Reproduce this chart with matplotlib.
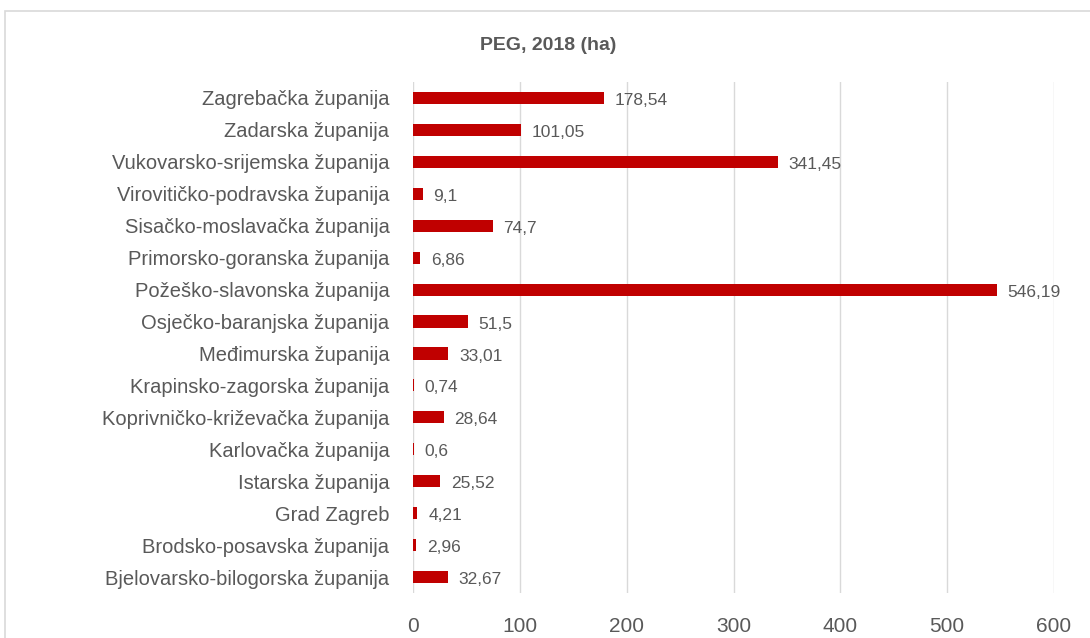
import matplotlib
matplotlib.use("Agg")
import matplotlib.pyplot as plt
from matplotlib.patches import Rectangle

categories = [
    "Zagrebačka županija",
    "Zadarska županija",
    "Vukovarsko-srijemska županija",
    "Virovitičko-podravska županija",
    "Sisačko-moslavačka županija",
    "Primorsko-goranska županija",
    "Požeško-slavonska županija",
    "Osječko-baranjska županija",
    "Međimurska županija",
    "Krapinsko-zagorska županija",
    "Koprivničko-križevačka županija",
    "Karlovačka županija",
    "Istarska županija",
    "Grad Zagreb",
    "Brodsko-posavska županija",
    "Bjelovarsko-bilogorska županija",
]
values = [178.54, 101.05, 341.45, 9.1, 74.7, 6.86, 546.19, 51.5, 33.01, 0.74,
          28.64, 0.6, 25.52, 4.21, 2.96, 32.67]
value_labels = ["178,54", "101,05", "341,45", "9,1", "74,7", "6,86", "546,19", "51,5",
                "33,01", "0,74", "28,64", "0,6", "25,52", "4,21", "2,96", "32,67"]
xticks = [0, 100, 200, 300, 400, 500, 600]
title = "PEG, 2018 (ha)"

plt.rcParams['font.family'] = ['Liberation Sans', 'DejaVu Sans']
txt = "#595959"

fig = plt.figure(figsize=(10.9, 6.38), dpi=100)
fig.patches.append(Rectangle((5/1090, -0.1), 1.2, 1 - 11/638 + 0.1, transform=fig.transFigure,
                             fill=False, edgecolor="#d9d9d9", linewidth=1.2))
ax = fig.add_axes([413/1090, 1 - 593/638, (1054 - 413)/1090, (593 - 82)/638])

n = len(categories)
ypos = list(range(n))[::-1]
ax.barh(ypos, values, height=0.38, color="#C00000", zorder=3)
for y, v, lab in zip(ypos, values, value_labels):
    ax.text(v + 10, y - 0.08, lab, va="center", ha="left", fontsize=12.5, color=txt)

ax.set_xlim(0, 600)
ax.set_ylim(-0.5, n - 0.5)
ax.set_xticks(xticks)
ax.set_xticklabels([str(t) for t in xticks], fontsize=15, color=txt)
ax.set_yticks(ypos)
ax.set_yticklabels(categories, fontsize=14.5, color=txt)
ax.tick_params(axis="both", length=0)
ax.tick_params(axis="x", pad=17)
ax.tick_params(axis="y", pad=17)
ax.grid(axis="x", color="#d9d9d9", linewidth=1, zorder=0)
for s in ax.spines.values():
    s.set_visible(False)

fig.text(548/1090, 1 - 45/638, title, ha="center", va="center", fontsize=14,
         fontweight="bold", color=txt)

fig.savefig("out.png", dpi=100)
